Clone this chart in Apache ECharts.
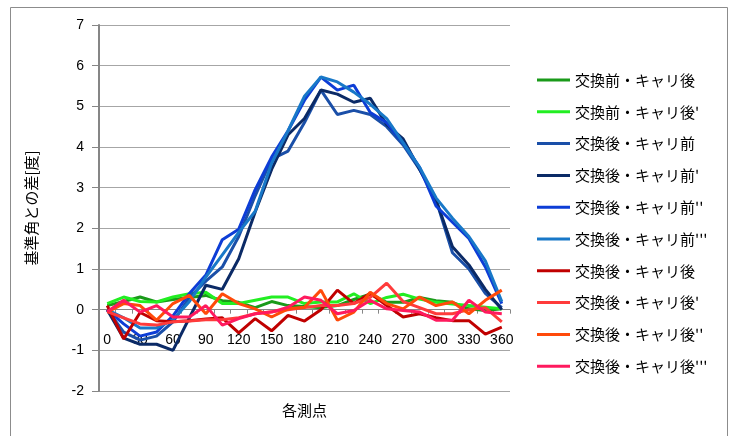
<!DOCTYPE html>
<html>
<head>
<meta charset="utf-8">
<script src="https://cdn.jsdelivr.net/npm/echarts@6/dist/echarts.min.js"></script>
<style>
  html, body { margin: 0; padding: 0; background: #fff; }
  #chart { width: 736px; height: 436px; }
</style>
</head>
<body>
<div id="chart"></div>
<script>
// Measurement positions [deg]
const angles = ['0','15','30','45','60','75','90','105','120','135','150','165','180',
                '195','210','225','240','255','270','285','300','315','330','345','360'];

// Difference from reference angle [deg] per condition
const beforeAfter     = [0.1, 0.2, 0.31, 0.19, 0.25, 0.3, 0.35, 0.22, 0.18, 0.05, 0.2, 0.1, 0.08, 0.05, 0.1, 0.25, 0.38, 0.18, 0.18, 0.3, 0.22, 0.18, 0.02, -0.02, 0.02];
const beforeAfter1    = [0.15, 0.31, 0.2, 0.19, 0.31, 0.39, 0.43, 0.15, 0.15, 0.23, 0.31, 0.31, 0.15, 0.19, 0.19, 0.39, 0.15, 0.3, 0.38, 0.26, 0.18, 0.14, 0.1, 0.06, 0.02];
const afterBefore     = [0.0, -0.55, -0.75, -0.65, -0.3, 0.3, 0.7, 1.05, 1.8, 2.8, 3.7, 3.9, 4.6, 5.4, 4.8, 4.9, 4.8, 4.5, 4.05, 3.45, 2.7, 1.4, 1.0, 0.4, 0.05];
const afterBefore1    = [0.0, -0.7, -0.85, -0.85, -1.0, -0.2, 0.6, 0.5, 1.25, 2.4, 3.45, 4.3, 4.7, 5.4, 5.3, 5.1, 5.2, 4.55, 4.2, 3.45, 2.7, 1.55, 1.1, 0.5, 0.0];
const afterBefore2    = [0.0, -0.35, -0.65, -0.55, -0.15, 0.4, 0.85, 1.72, 1.98, 2.95, 3.75, 4.4, 5.15, 5.72, 5.4, 5.52, 4.85, 4.6, 4.1, 3.5, 2.55, 2.15, 1.75, 1.05, 0.15];
const afterBefore3    = [0.0, -0.2, -0.45, -0.45, -0.25, 0.2, 0.8, 1.35, 1.9, 2.42, 3.6, 4.4, 5.25, 5.72, 5.6, 5.35, 5.05, 4.7, 4.1, 3.5, 2.75, 2.25, 1.8, 1.2, 0.2];
const afterAfter      = [0.1, -0.72, -0.07, -0.27, -0.3, -0.27, -0.23, -0.2, -0.57, -0.22, -0.52, -0.14, -0.28, 0.0, 0.48, 0.15, 0.4, 0.1, -0.18, -0.1, -0.2, -0.27, -0.27, -0.6, -0.43];
const afterAfter1     = [-0.05, -0.2, -0.35, -0.38, -0.3, -0.28, -0.25, -0.25, -0.2, -0.1, -0.05, 0.0, 0.05, 0.1, 0.1, 0.15, 0.3, 0.65, 0.2, 0.05, -0.1, -0.1, 0.0, 0.05, -0.3];
const afterAfter2     = [-0.06, 0.15, 0.1, -0.26, 0.15, 0.35, -0.1, 0.39, 0.15, 0.02, -0.18, 0.02, 0.06, 0.48, -0.26, -0.06, 0.43, 0.15, 0.02, 0.31, 0.1, 0.19, -0.1, 0.23, 0.48];
const afterAfter3     = [-0.05, 0.23, -0.06, 0.1, -0.18, -0.18, 0.1, -0.38, -0.22, -0.1, -0.06, 0.06, 0.31, 0.23, -0.1, -0.02, 0.23, 0.02, -0.02, -0.06, -0.26, -0.26, 0.23, -0.06, -0.1];

const seriesNames = ['交換前・キャリ後', "交換前・キャリ後'", '交換後・キャリ前', "交換後・キャリ前'",
                     "交換後・キャリ前''", "交換後・キャリ前'''", '交換後・キャリ後', "交換後・キャリ後'",
                     "交換後・キャリ後''", "交換後・キャリ後'''"];
const seriesData = [beforeAfter, beforeAfter1, afterBefore, afterBefore1, afterBefore2,
                    afterBefore3, afterAfter, afterAfter1, afterAfter2, afterAfter3];
const seriesColors = ['#1A9A1A', '#22EE22', '#1A4FA8', '#0B2A66', '#0D3DD6',
                      '#1878C8', '#C00000', '#FF3B3B', '#FF4A0A', '#FF1A5E'];

const yTicks = { min: -2, max: 7, step: 1 };

const latin = "'Liberation Sans', 'Noto Sans', sans-serif";
const cjk = "'Noto Sans CJK JP', 'Noto Sans', sans-serif";
const axisGray = '#868686';

// plot area
const gridTop = 25, gridHeight = 366;
// the category axis crosses the value axis at 0
const zeroOffset = gridHeight * (0 - yTicks.min) / (yTicks.max - yTicks.min);

const chart = echarts.init(document.getElementById('chart'), null, { renderer: 'canvas' });

chart.setOption({
  animation: false,
  backgroundColor: '#ffffff',
  graphic: [{
    type: 'rect',
    shape: { x: 10.5, y: 7.5, width: 717, height: 440 },
    style: { fill: 'none', stroke: '#8C8C8C', lineWidth: 1 },
    silent: true,
    z: 0
  }],
  grid: { left: 99, top: gridTop, width: 411, height: gridHeight, containLabel: false, outerBoundsMode: 'none' },
  legend: {
    orient: 'vertical',
    left: 532,
    top: 67,
    icon: 'rect',
    itemWidth: 33,
    itemHeight: 3,
    itemGap: 15.8,
    data: seriesNames,
    textStyle: { fontFamily: cjk, fontSize: 15, color: '#000', lineHeight: 16 }
  },
  xAxis: {
    type: 'category',
    data: angles,
    boundaryGap: true,
    position: 'bottom',
    offset: -zeroOffset,
    name: '各測点',
    nameLocation: 'middle',
    nameGap: 93,
    nameTextStyle: { fontFamily: cjk, fontSize: 15, color: '#000' },
    axisLine: { onZero: false, lineStyle: { color: axisGray, width: 1 } },
    axisTick: { show: true, interval: 0, length: 4, lineStyle: { color: axisGray } },
    axisLabel: { interval: 1, margin: 23, fontFamily: latin, fontSize: 14, color: '#000' },
    splitLine: { show: false }
  },
  yAxis: {
    type: 'value',
    min: yTicks.min,
    max: yTicks.max,
    interval: yTicks.step,
    name: '基準角との差[度]',
    nameLocation: 'middle',
    nameGap: 60,
    nameRotate: 90,
    nameTextStyle: { fontFamily: cjk, fontSize: 15, color: '#000' },
    axisLine: { show: true, lineStyle: { color: axisGray, width: 2 } },
    axisTick: { show: true, length: 7, lineStyle: { color: axisGray } },
    axisLabel: { margin: 15, fontFamily: latin, fontSize: 14, color: '#000' },
    splitLine: { show: true, lineStyle: { color: '#A6A6A6', width: 1 } }
  },
  series: seriesNames.map((name, k) => ({
    name: name,
    type: 'line',
    data: seriesData[k],
    symbol: 'none',
    showSymbol: false,
    smooth: false,
    color: seriesColors[k],
    lineStyle: { width: 3, color: seriesColors[k] },
    emphasis: { disabled: true }
  }))
});
</script>
</body>
</html>
